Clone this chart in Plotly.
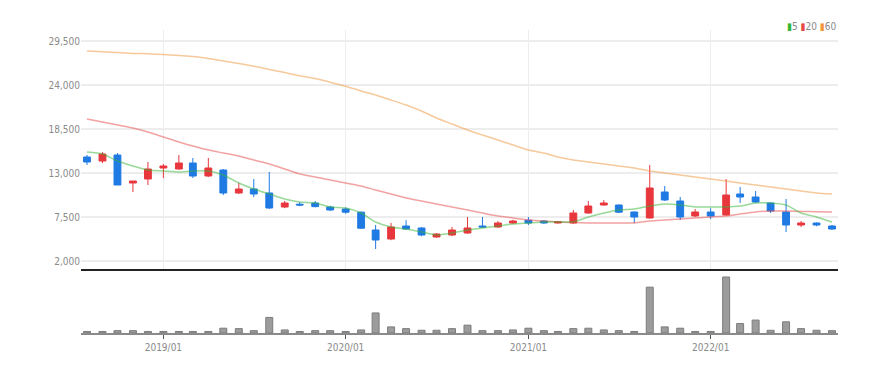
import plotly.graph_objects as go

months = [
    "2018-08-01", "2018-09-01", "2018-10-01", "2018-11-01", "2018-12-01",
    "2019-01-01", "2019-02-01", "2019-03-01", "2019-04-01", "2019-05-01", "2019-06-01",
    "2019-07-01", "2019-08-01", "2019-09-01", "2019-10-01", "2019-11-01", "2019-12-01",
    "2020-01-01", "2020-02-01", "2020-03-01", "2020-04-01", "2020-05-01", "2020-06-01",
    "2020-07-01", "2020-08-01", "2020-09-01", "2020-10-01", "2020-11-01", "2020-12-01",
    "2021-01-01", "2021-02-01", "2021-03-01", "2021-04-01", "2021-05-01", "2021-06-01",
    "2021-07-01", "2021-08-01", "2021-09-01", "2021-10-01", "2021-11-01", "2021-12-01",
    "2022-01-01", "2022-02-01", "2022-03-01", "2022-04-01", "2022-05-01", "2022-06-01",
    "2022-07-01", "2022-08-01", "2022-09-01",
]

open_ = [15000, 14500, 15250, 11750, 12250, 13625, 13500, 14250, 12625, 13375, 10500,
         11000, 10500, 8750, 9100, 9250, 8750, 8500, 8100, 5875, 4750, 6375, 6125,
         5000, 5250, 5500, 6375, 6250, 6750, 7100, 7000, 6750, 6750, 8000, 9000,
         9000, 8125, 7375, 10625, 9500, 7625, 8125, 7750, 10375, 10000, 9250, 8125,
         6500, 6750, 6375]
high = [15250, 15625, 15500, 12000, 14375, 14125, 15250, 14875, 14875, 13500, 11750,
        12250, 13125, 9500, 9350, 9500, 8900, 8700, 8200, 6500, 6750, 7100, 6250,
        5500, 6250, 7500, 7500, 7000, 7150, 7500, 7100, 6950, 8375, 9500, 9600,
        9050, 8200, 14000, 11375, 10000, 8500, 8600, 12250, 11250, 10750, 9300, 9750,
        7000, 6800, 6500]
low = [14000, 14250, 11500, 10625, 11500, 12375, 13400, 12375, 12500, 10250, 10400,
       10000, 8500, 8600, 8850, 8700, 8250, 7900, 6000, 3500, 4600, 5900, 5100,
       4900, 5100, 5400, 6150, 6150, 6650, 6500, 6650, 6700, 6650, 7900, 8900,
       8000, 6750, 7300, 9500, 7125, 7500, 7250, 7650, 9250, 9250, 8000, 5625,
       6250, 6350, 5900]
close = [14375, 15375, 11500, 12000, 13500, 13875, 14250, 12625, 13625, 10500, 11000,
         10375, 8625, 9250, 9000, 8800, 8375, 8100, 6100, 4625, 6250, 6000, 5250,
         5375, 5875, 6125, 6250, 6750, 7000, 6750, 6750, 6900, 8000, 8875, 9250,
         8100, 7500, 11125, 9625, 7500, 8125, 7625, 10250, 10000, 9375, 8250, 6500,
         6750, 6500, 6000]

ma5 = [15625, 15375, 14500, 13875, 13375, 13250, 13125, 13250, 13250, 12750, 11750,
       11000, 10375, 9750, 9375, 9250, 8750, 8625, 8000, 6875, 6250, 6000, 5625,
       5250, 5500, 5875, 6125, 6375, 6625, 6750, 6875, 6875, 6900, 7500, 8000,
       8375, 8500, 8875, 9125, 9000, 8750, 8750, 8750, 8875, 9250, 9250, 9000,
       8000, 7500, 6875]
ma20 = [19750, 19375, 19000, 18625, 18125, 17500, 16875, 16375, 15875, 15500, 15125,
        14625, 14125, 13500, 12875, 12500, 12125, 11750, 11375, 10875, 10375, 9875, 9500,
        9125, 8750, 8375, 8000, 7625, 7375, 7125, 7000, 6875, 6800, 6750, 6750,
        6750, 6750, 7000, 7125, 7250, 7375, 7500, 7625, 7875, 8125, 8250, 8250,
        8200, 8150, 8125]
ma60 = [28250, 28150, 28050, 27950, 27900, 27800, 27700, 27550, 27300, 27000, 26700,
        26350, 25950, 25550, 25150, 24800, 24350, 23850, 23250, 22750, 22125, 21500, 20750,
        19875, 19125, 18375, 17750, 17125, 16500, 15875, 15500, 15000, 14625, 14375, 14125,
        13875, 13625, 13250, 13000, 12750, 12500, 12250, 12000, 11750, 11500, 11250, 11000,
        10750, 10500, 10375]

volume = [150, 150, 230, 230, 150, 150, 150, 150, 150, 470, 430,
          230, 1530, 300, 150, 230, 230, 150, 300, 1970, 600, 430, 270,
          270, 430, 770, 230, 230, 300, 470, 230, 150, 430, 470, 300,
          230, 150, 4500, 600, 470, 150, 150, 5500, 930, 1270, 270, 1100,
          430, 270, 230]

price_ticks = [2000, 7500, 13000, 18500, 24000, 29500]
legend_labels = ["5", "20", "60"]

UP = "#e8373c"
DOWN = "#1f7ae3"
C5, C20, C60 = "#35b535", "#e84747", "#f0953a"

fig = go.Figure()
fig.add_trace(go.Candlestick(
    x=months, open=open_, high=high, low=low, close=close,
    increasing=dict(line=dict(color=UP, width=1), fillcolor=UP),
    decreasing=dict(line=dict(color=DOWN, width=1), fillcolor=DOWN),
    whiskerwidth=0, xaxis="x", yaxis="y", showlegend=False, name="",
))
for vals, col in [(ma60, C60), (ma20, C20), (ma5, C5)]:
    fig.add_trace(go.Scatter(
        x=months, y=vals, mode="lines", line=dict(color=col, width=1.5, shape="spline", smoothing=0.6),
        opacity=0.5, xaxis="x", yaxis="y", showlegend=False, hoverinfo="skip",
    ))
fig.add_trace(go.Bar(
    x=months, y=volume, marker=dict(color="#9c9c9c", line=dict(color="#7c7c7c", width=1)),
    width=14 * 24 * 3600 * 1000, xaxis="x2", yaxis="y2", showlegend=False,
))

xr = ["2018-07-20", "2022-09-13"]
tickfont = dict(family="Liberation Sans Narrow, DejaVu Sans Condensed, sans-serif", size=10, color="#8a8a8a")

legend_text = " ".join(
    f"<span style='color:{c}'>▮</span>{t}" for c, t in zip([C5, C20, C60], legend_labels)
)

fig.update_layout(
    width=887, height=366,
    margin=dict(l=73, r=57, t=22, b=41),
    paper_bgcolor="white", plot_bgcolor="white",
    showlegend=False,
    xaxis=dict(domain=[0, 1], range=xr, type="date", anchor="y", showticklabels=False,
               showgrid=True, gridcolor="#ededed", gridwidth=1, dtick="M12", tick0="2019-01-01",
               showline=True, linecolor="#222222", linewidth=2, rangeslider=dict(visible=False),
               ticks=""),
    yaxis=dict(domain=[0.2112, 1], range=[1000, 30875], tickvals=price_ticks, tickformat=",",
               showgrid=True, gridcolor="#ededed", gridwidth=1.5, zeroline=False,
               tickfont=tickfont, ticks=""),
    xaxis2=dict(domain=[0, 1], range=xr, type="date", anchor="y2", dtick="M12",
                tick0="2019-01-01", tickformat="%Y/%m", ticks="outside", ticklen=4,
                tickcolor="#555555", showline=True, linecolor="#8a8a8a", linewidth=2,
                showgrid=False, tickfont=tickfont),
    yaxis2=dict(domain=[0, 0.1947], range=[0, 5795], visible=False),
    annotations=[dict(
        xref="paper", yref="paper", x=1, y=1.01, xanchor="right", yanchor="middle",
        text=legend_text, showarrow=False,
        font=dict(family="Liberation Sans Narrow, DejaVu Sans Condensed, sans-serif", size=10, color="#8a8a8a"),
    )],
)

fig.write_html("out.html")
